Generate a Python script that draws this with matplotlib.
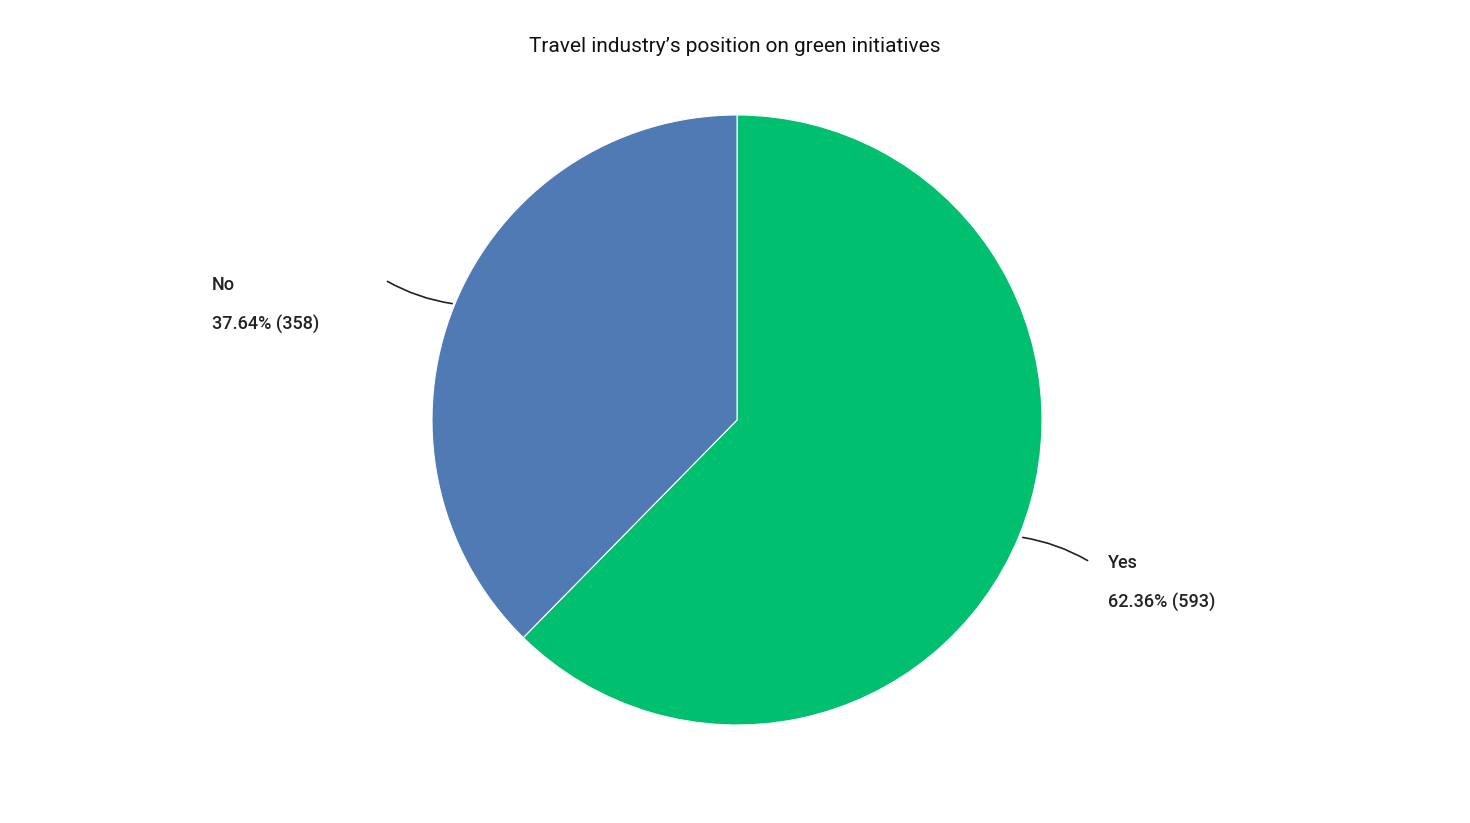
import matplotlib.pyplot as plt

plt.rcParams['font.family'] = ['Roboto', 'DejaVu Sans']

labels = ['Yes', 'No']
counts = [593, 358]
percents = [62.36, 37.64]
colors = ['#00BF6F', '#4F7AB3']

W, H = 1470, 823
fig = plt.figure(figsize=(W / 100, H / 100), dpi=100)
cx, cy, r = 737, 420, 305
ax = fig.add_axes([(cx - r) / W, (H - cy - r) / H, 2 * r / W, 2 * r / H])
ax.pie(counts, colors=colors, startangle=90, counterclock=False, radius=1,
       wedgeprops=dict(edgecolor='white', linewidth=0.8))
ax.set_xlim(-1, 1)
ax.set_ylim(-1, 1)
ax.set_aspect('equal')
ax.axis('off')

fig.text(0.5, 1 - 47 / H, 'Travel industry\u2019s position on green initiatives',
         ha='center', va='center', fontsize=15, color='#111111')

def px(x, y):
    return ((x - cx) / r, (cy - y) / r)

# leader lines and labels
ax.annotate('', xy=px(1020, 537), xytext=px(1090, 562), annotation_clip=False,
            arrowprops=dict(arrowstyle='-', color='#222222', lw=1.2,
                            connectionstyle='arc3,rad=0.1'))
ax.annotate('', xy=px(455, 304), xytext=px(385, 280), annotation_clip=False,
            arrowprops=dict(arrowstyle='-', color='#222222', lw=1.2,
                            connectionstyle='arc3,rad=0.1'))

for (tx, ty), lab, c, p in [((1108, 563), labels[0], counts[0], percents[0]),
                            ((212, 285), labels[1], counts[1], percents[1])]:
    x, y = px(tx, ty)
    ax.text(x, y, lab, ha='left', va='center', fontsize=13, fontweight='medium',
            color='#222222', clip_on=False)
    x2, y2 = px(tx, ty + 39)
    ax.text(x2, y2, f'{p:.2f}% ({c})', ha='left', va='center', fontsize=13,
            fontweight='medium', color='#222222', clip_on=False)

fig.savefig('out.png', dpi=100)
